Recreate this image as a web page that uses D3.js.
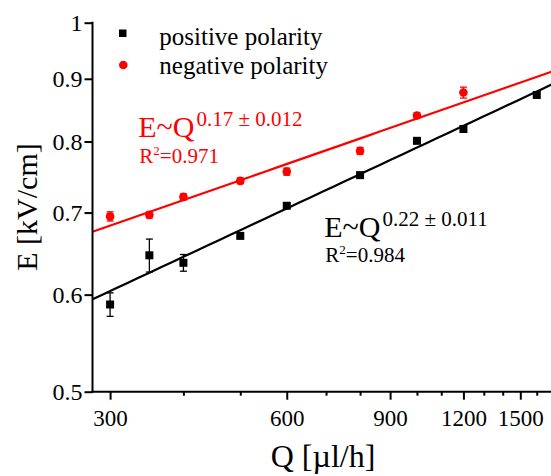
<!DOCTYPE html>
<html>
<head>
<meta charset="utf-8">
<script src="https://cdn.jsdelivr.net/npm/d3@7"></script>
<style>
  html, body { margin: 0; padding: 0; background: #fff; }
  svg { display: block; }
  text { font-family: "Liberation Serif", "Times New Roman", serif; }
</style>
</head>
<body>
<svg id="chart" width="551" height="476"></svg>
<script>
// ---- data ----
const posQ = [300, 350, 400, 500, 600, 800, 1000, 1200, 1600];
const posE = [0.589, 0.646, 0.637, 0.670, 0.709, 0.751, 0.801, 0.819, 0.873];
const posErr = [0.013, 0.020, 0.010, 0.003, 0.003, 0.003, 0.003, 0.003, 0.003];

const negQ = [300, 350, 400, 500, 600, 800, 1000, 1200];
const negE = [0.695, 0.697, 0.721, 0.743, 0.756, 0.786, 0.840, 0.877];
const negErr = [0.006, 0.004, 0.004, 0.004, 0.005, 0.005, 0.004, 0.009];

// power-law fit lines: E = E300 * (Q/300)^exponent
const fitNames = ["positive", "negative"];
const fitExponent = [0.224, 0.167];
const fitE300 = [0.604, 0.683];

const xMajorTicks = [300, 600, 900, 1200, 1500];
const xMinorTicks = [400, 500, 700, 800, 1000, 1100, 1300, 1400, 1600];
const yTicks = [0.5, 0.6, 0.7, 0.8, 0.9, 1];
const yTickLabels = ["0.5", "0.6", "0.7", "0.8", "0.9", "1"];

const legendLabels = ["positive polarity", "negative polarity"];
const colors = ["#000000", "#ff0000"];

// ---- layout ----
const svg = d3.select("#chart");
const x = d3.scaleLog().domain([280, 1700]).range([92.5, 552.2]);
const y = d3.scaleLog().domain([0.5, 1]).range([391.7, 22.7]);
const xLeft = 92.5, yBottom = 391.7, yTop = 22.7;

svg.append("defs").append("clipPath").attr("id", "plotclip")
  .append("rect").attr("x", xLeft).attr("y", 0).attr("width", 551 - xLeft).attr("height", yBottom);

// fit lines
const fitG = svg.append("g").attr("clip-path", "url(#plotclip)");
const qLine = d3.range(0, 41).map(i => 280 * Math.pow(1700 / 280, i / 40));
fitNames.forEach((n, k) => {
  const line = d3.line()
    .x(q => x(q))
    .y(q => y(fitE300[k] * Math.pow(q / 300, fitExponent[k])));
  fitG.append("path").datum(qLine)
    .attr("d", line).attr("fill", "none")
    .attr("stroke", colors[k]).attr("stroke-width", 2.2);
});

// error bars helper
function errorBars(g, Q, E, Err, color) {
  const d = Q.map((q, i) => ({ q, e: E[i], err: Err[i] }));
  const gg = g.append("g").attr("stroke", color).attr("stroke-width", 1.3);
  gg.selectAll("line.v").data(d).join("line").attr("class", "v")
    .attr("x1", p => x(p.q)).attr("x2", p => x(p.q))
    .attr("y1", p => y(p.e + p.err)).attr("y2", p => y(p.e - p.err));
  gg.selectAll("line.t").data(d).join("line").attr("class", "t")
    .attr("x1", p => x(p.q) - 3.5).attr("x2", p => x(p.q) + 3.5)
    .attr("y1", p => y(p.e + p.err)).attr("y2", p => y(p.e + p.err));
  gg.selectAll("line.b").data(d).join("line").attr("class", "b")
    .attr("x1", p => x(p.q) - 3.5).attr("x2", p => x(p.q) + 3.5)
    .attr("y1", p => y(p.e - p.err)).attr("y2", p => y(p.e - p.err));
  return d;
}

const markG = svg.append("g");
const pd = errorBars(markG, posQ, posE, posErr, colors[0]);
markG.selectAll("rect.pos").data(pd).join("rect").attr("class", "pos")
  .attr("x", p => x(p.q) - 4).attr("y", p => y(p.e) - 4)
  .attr("width", 8).attr("height", 8).attr("fill", colors[0]);

const nd = errorBars(markG, negQ, negE, negErr, colors[1]);
markG.selectAll("circle.neg").data(nd).join("circle").attr("class", "neg")
  .attr("cx", p => x(p.q)).attr("cy", p => y(p.e))
  .attr("r", 4.3).attr("fill", colors[1]);

// ---- axes ----
const axG = svg.append("g").attr("stroke", "#000").attr("stroke-width", 2);
axG.append("line").attr("x1", xLeft).attr("x2", xLeft).attr("y1", yTop - 1).attr("y2", yBottom + 1);
axG.append("line").attr("x1", xLeft - 1).attr("x2", 551).attr("y1", yBottom).attr("y2", yBottom);

const xAxisMajor = d3.axisBottom(x).tickValues(xMajorTicks).tickSize(8).tickPadding(10)
  .tickFormat(d3.format("d"));
const gx = svg.append("g").attr("transform", `translate(0,${yBottom})`).call(xAxisMajor);
gx.select(".domain").remove();
gx.selectAll(".tick line").attr("stroke-width", 2);
gx.selectAll(".tick text").attr("font-size", 23).attr("font-family", "Liberation Serif").attr("fill", "#000");

const xAxisMinor = d3.axisBottom(x).tickValues(xMinorTicks).tickSize(4).tickFormat("");
const gxm = svg.append("g").attr("transform", `translate(0,${yBottom})`).call(xAxisMinor);
gxm.select(".domain").remove();
gxm.selectAll(".tick line").attr("stroke-width", 2);

const yAxis = d3.axisLeft(y).tickValues(yTicks).tickSize(8).tickPadding(2)
  .tickFormat((d, i) => yTickLabels[i]);
const gy = svg.append("g").attr("transform", `translate(${xLeft},0)`).call(yAxis);
gy.select(".domain").remove();
gy.selectAll(".tick line").attr("stroke-width", 2);
gy.selectAll(".tick text").attr("font-size", 24).attr("font-family", "Liberation Serif").attr("fill", "#000");

// axis titles
svg.append("text").attr("x", 323).attr("y", 466.5).attr("text-anchor", "middle")
  .attr("font-size", 32).text("Q [µl/h]");
svg.append("text").attr("transform", "translate(37,207) rotate(-90)")
  .attr("text-anchor", "middle").attr("font-size", 30).text("E [kV/cm]");

// ---- legend ----
const lg = svg.append("g");
lg.append("rect").attr("x", 119).attr("y", 29.5).attr("width", 7.5).attr("height", 7.5).attr("fill", colors[0]);
lg.append("circle").attr("cx", 123.3).attr("cy", 65).attr("r", 4.3).attr("fill", colors[1]);
lg.append("text").attr("x", 159.3).attr("y", 45).attr("font-size", 25).text(legendLabels[0]);
lg.append("text").attr("x", 159.3).attr("y", 74).attr("font-size", 25).text(legendLabels[1]);

// ---- fit annotations ----
function fitLabel(x0, y0, exponentText, r2Text, color, r2y) {
  const t = svg.append("text").attr("x", x0).attr("y", y0).attr("fill", color).attr("font-size", 30);
  t.append("tspan").text("E~Q");
  t.append("tspan").attr("font-size", 21).attr("dx", 2).attr("dy", -11).text(exponentText);
  const r = svg.append("text").attr("x", x0 + 1).attr("y", r2y).attr("fill", color).attr("font-size", 21);
  r.append("tspan").text("R");
  r.append("tspan").attr("font-size", 13).attr("dy", -8).text("2");
  r.append("tspan").attr("dy", 8).text("=" + r2Text);
}
fitLabel(138.3, 137.3, "0.17 ± 0.012", "0.971", colors[1], 162.7);
fitLabel(324.3, 236.7, "0.22 ± 0.011", "0.984", colors[0], 262);
</script>
</body>
</html>
